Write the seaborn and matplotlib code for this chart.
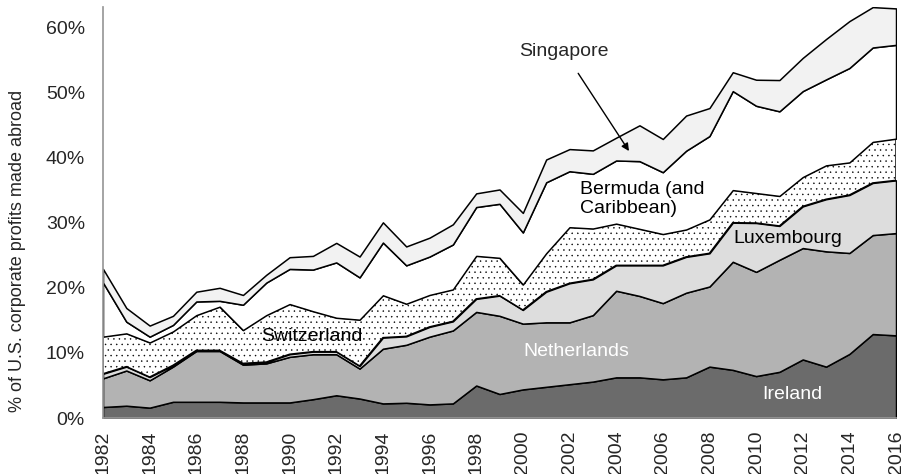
import numpy as np
import matplotlib
matplotlib.use('Agg')
import matplotlib.pyplot as plt
import seaborn as sns

# --- Data: share of U.S. corporate profits made abroad, by haven (percent) ---
years = list(range(1982, 2017))

ireland = [1.7, 1.9, 1.6, 2.5, 2.5, 2.5, 2.4, 2.4, 2.4, 2.9, 3.5, 3.0, 2.25, 2.35, 2.1, 2.25, 5.0,
           3.7, 4.4, 4.8, 5.2, 5.6, 6.25, 6.25, 5.95, 6.25, 7.9, 7.4, 6.45, 7.1, 9.0, 7.9, 9.85, 12.9, 12.7]
netherlands = [4.4, 5.4, 4.2, 5.4, 7.8, 7.8, 5.8, 6.0, 7.0, 6.9, 6.3, 4.6, 8.4, 8.9, 10.4, 11.2, 11.3,
               12.0, 10.1, 9.9, 9.5, 10.2, 13.3, 12.5, 11.7, 13.0, 12.3, 16.6, 16.0, 17.2, 17.1, 17.7, 15.5, 15.2, 15.7]
luxembourg = [0.7, 0.6, 0.5, 0.2, 0.1, 0.1, 0.2, 0.2, 0.4, 0.4, 0.4, 0.4, 1.7, 1.3, 1.5, 1.4, 2.0,
              3.1, 2.1, 4.7, 6.0, 5.5, 3.9, 4.7, 5.8, 5.5, 5.1, 6.0, 7.5, 5.2, 6.4, 8.0, 8.9, 8.0, 8.1]
switzerland = [5.7, 5.1, 5.3, 5.2, 5.4, 6.7, 5.1, 7.2, 7.7, 6.2, 5.2, 7.1, 6.5, 5.0, 4.9, 4.9, 6.6,
               5.8, 3.9, 5.9, 8.6, 7.8, 6.4, 5.6, 4.8, 4.2, 5.2, 5.0, 4.6, 4.6, 4.5, 5.2, 5.0, 6.3, 6.4]
bermuda = [8.3, 1.8, 0.9, 1.0, 2.1, 0.9, 3.9, 5.0, 5.4, 6.4, 8.5, 6.5, 8.1, 5.9, 5.9, 6.9, 7.5,
           8.3, 8.0, 10.9, 8.6, 8.4, 9.7, 10.4, 9.5, 12.1, 12.8, 15.2, 13.4, 13.0, 13.2, 13.2, 14.5, 14.5, 14.4]
singapore = [2.1, 2.1, 1.7, 1.4, 1.5, 2.0, 1.5, 1.2, 1.8, 2.1, 3.0, 3.2, 3.1, 2.9, 2.9, 3.1, 2.1,
             2.2, 3.0, 3.5, 3.4, 3.6, 3.5, 5.5, 5.1, 5.4, 4.3, 2.9, 4.0, 4.8, 5.1, 6.2, 7.2, 6.2, 5.6]

layer_colors = ['#6b6b6b', '#b3b3b3', '#dddddd', '#ffffff', '#ffffff', '#f2f2f2']
xtick_years = list(range(1982, 2017, 2))
ytick_vals = [0, 10, 20, 30, 40, 50, 60]

# --- Style ---
sns.set_theme(style='white')
plt.rcParams['font.family'] = ['Liberation Sans', 'DejaVu Sans']
plt.rcParams['hatch.linewidth'] = 0.3

fig = plt.figure(figsize=(9.06, 4.74), dpi=100)
ax = fig.add_axes([0.1137, 0.118, 0.8753, 0.867])

polys = ax.stackplot(years, ireland, netherlands, luxembourg, switzerland, bermuda, singapore,
                     colors=layer_colors, edgecolor='black', linewidth=1.1)
polys[3].set_hatch('...')

totals = np.sum([ireland, netherlands, luxembourg, switzerland, bermuda, singapore], axis=0)
ax.set_xlim(years[0], years[-1])
ax.set_ylim(0, totals.max())

ax.set_xticks(xtick_years)
ax.set_xticklabels([str(y) for y in xtick_years], rotation=90, fontsize=14)
ax.set_yticks(ytick_vals)
ax.set_yticklabels([f'{v}%' for v in ytick_vals], fontsize=14)
ax.tick_params(axis='x', length=0, pad=9)
ax.tick_params(axis='y', length=0, pad=13)

ax.set_ylabel('% of U.S. corporate profits made abroad', fontsize=13)
ax.yaxis.set_label_coords(-0.097, 0.406)

for side in ['top', 'right']:
    ax.spines[side].set_visible(False)
ax.spines['left'].set_color('#999999')
ax.spines['bottom'].set_color('#999999')

# --- Layer labels ---
ax.text(2011.55, 3.65, 'Ireland', fontsize=14, color='white', ha='center', va='center')
ax.text(2002.3, 10.2, 'Netherlands', fontsize=14, color='white', ha='center', va='center')
ax.text(2011.35, 27.5, 'Luxembourg', fontsize=14, color='black', ha='center', va='center')
ax.text(1990.95, 12.5, 'Switzerland', fontsize=14, color='black', ha='center', va='center')
ax.text(2002.45, 33.7, 'Bermuda (and\nCaribbean)', fontsize=14, color='black',
        ha='left', va='center', linespacing=1.15)
ax.annotate('Singapore', xy=(2004.55, 41.0), xytext=(2001.75, 56.35), fontsize=14,
            ha='center', va='center',
            arrowprops=dict(arrowstyle='-|>', color='black', lw=1, mutation_scale=11,
                            shrinkA=9, shrinkB=0))

plt.savefig('out.png', dpi=100)
plt.close()
